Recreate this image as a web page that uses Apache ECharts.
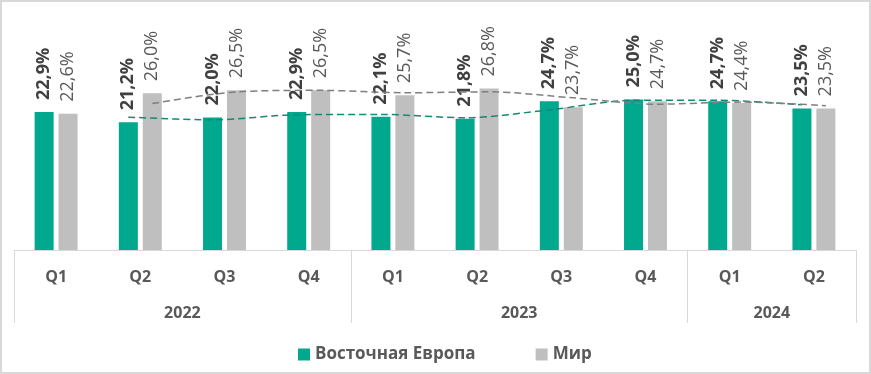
<!DOCTYPE html>
<html><head><meta charset="utf-8">
<script src="https://cdn.jsdelivr.net/npm/echarts@6/dist/echarts.min.js"></script>
<style>
html,body{margin:0;padding:0;background:#fff;}
#wrap{position:relative;width:871px;height:374px;}
#chart{width:871px;height:374px;}
#frame{position:absolute;left:0;top:0;width:871px;height:374px;box-sizing:border-box;border:2px solid #d9d9d9;pointer-events:none;}
</style></head>
<body>
<div id="wrap"><div id="chart"></div><div id="frame"></div></div>
<script>
const quarters = ['Q1','Q2','Q3','Q4','Q1','Q2','Q3','Q4','Q1','Q2'];
const years = ['2022','2023','2024'];
const yearCenters = [2, 6, 9];      // group centres in category units
const yearBounds = [0, 4, 8, 10];   // group boundaries in category units
const seriesNames = ['Восточная Европа', 'Мир'];
const eastEurope = [22.9, 21.2, 22.0, 22.9, 22.1, 21.8, 24.7, 25.0, 24.7, 23.5];
const world = [22.6, 26.0, 26.5, 26.5, 25.7, 26.8, 23.7, 24.7, 24.4, 23.5];
// dashed trend lines (2-period moving average)
const eastTrend = [null, 22.05, 21.6, 22.45, 22.5, 21.95, 23.25, 24.85, 24.85, 24.1];
const worldTrend = [null, 24.3, 26.25, 26.5, 26.1, 26.25, 25.25, 24.2, 24.55, 23.95];

const GREEN = '#00a88e', GRAY = '#bfbfbf';
const FONT = 'Open Sans';
const fmt = p => p.value.toFixed(1).replace('.', ',') + '%';

const chart = echarts.init(document.getElementById('chart'), null, {renderer:'canvas'});
const gridBase = {top: 9, bottom: 124};
const hiddenY = gi => ({type:'value', gridIndex: gi, min:0, max:40, show:false});
const hiddenX = gi => ({type:'category', gridIndex: gi, data: quarters, show:false, boundaryGap:true});

chart.setOption({
  animation: false,
  textStyle: {fontFamily: FONT},
  grid: [
    Object.assign({left: 14, right: 15}, gridBase),
    Object.assign({left: 2, right: 27}, gridBase),
    Object.assign({left: 26, right: 3}, gridBase)
  ],
  legend: {
    data: seriesNames,
    left: 293, top: 341,
    itemWidth: 12, itemHeight: 12, itemGap: 60,
    icon: 'rect',
    textStyle: {fontFamily: FONT, fontSize: 17, fontWeight: 'bold', color: '#595959'}
  },
  xAxis: [
    {type:'category', gridIndex:0, data: quarters, boundaryGap:true,
     axisLine:{show:true, lineStyle:{color:'#d9d9d9', width:1}},
     axisTick:{show:false},
     axisLabel:{margin:19, fontFamily: FONT, fontSize:16, fontWeight:'bold', color:'#595959', interval:0}},
    {type:'value', gridIndex:0, min:0, max:10, position:'bottom',
     axisLine:{show:false}, splitLine:{show:false},
     axisTick:{show:true, customValues: yearBounds, length:73, lineStyle:{color:'#d9d9d9', width:1}},
     axisLabel:{show:true, customValues: yearCenters, margin:55, fontFamily: FONT, fontSize:16, fontWeight:'bold', color:'#595959',
       formatter: v => years[yearCenters.indexOf(v)]}},
    hiddenX(1), hiddenX(2)
  ],
  yAxis: [hiddenY(0), hiddenY(1), hiddenY(2)],
  series: [
    {name: seriesNames[0], type:'bar', xAxisIndex:0, yAxisIndex:0, data: eastEurope,
     barWidth:19, barGap:'26%', itemStyle:{color:GREEN},
     label:{show:true, position:'top', rotate:90, align:'left', verticalAlign:'middle', distance:12,
       formatter: fmt, fontFamily: FONT, fontSize:18, fontWeight:'bold', color:'#404040'}},
    {name: seriesNames[1], type:'bar', xAxisIndex:0, yAxisIndex:0, data: world,
     barWidth:19, barGap:'26%', itemStyle:{color:GRAY},
     label:{show:true, position:'top', rotate:90, align:'left', verticalAlign:'middle', distance:12,
       formatter: fmt, fontFamily: FONT, fontSize:18, fontWeight:'normal', color:'#595959'}},
    {type:'line', xAxisIndex:2, yAxisIndex:1, data: eastTrend, smooth:0.3, symbol:'none', z:5,
     lineStyle:{color:'#138a76', width:1.5, type:[7,4]}},
    {type:'line', xAxisIndex:3, yAxisIndex:2, data: worldTrend, smooth:0.3, symbol:'none', z:5,
     lineStyle:{color:'#7f7f7f', width:1.5, type:[7,4]}}
  ]
});
</script>
</body></html>
